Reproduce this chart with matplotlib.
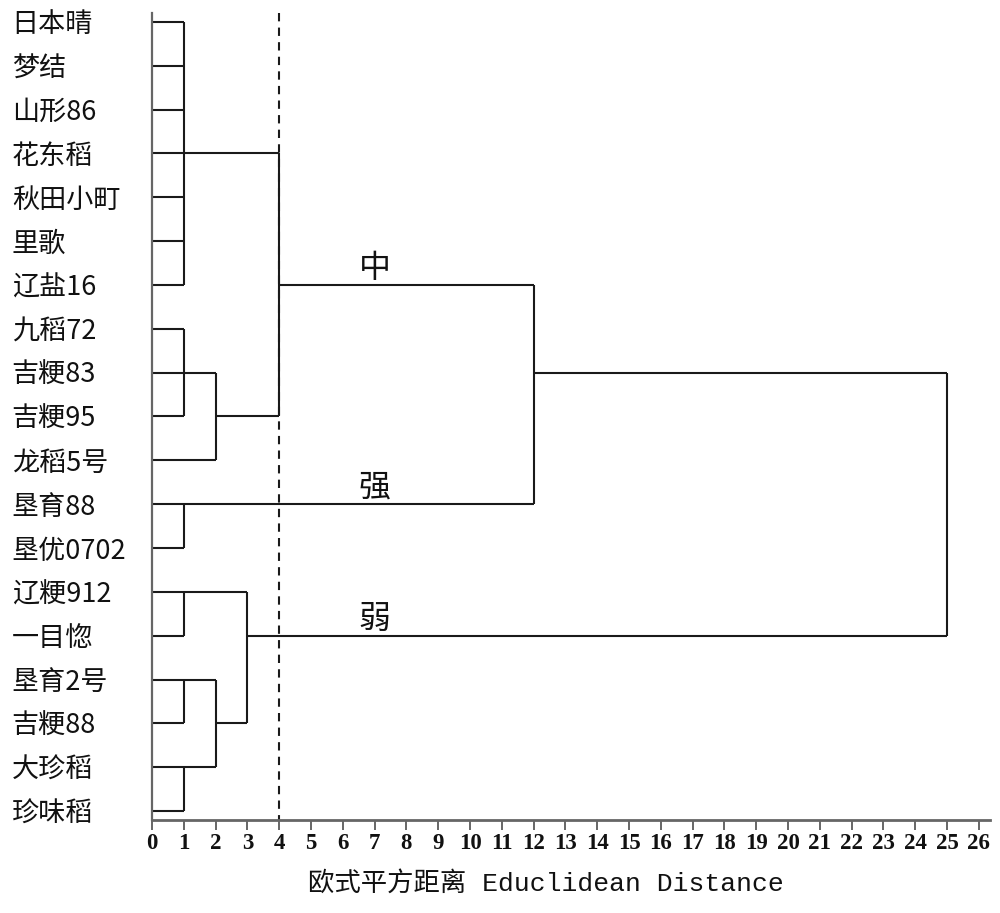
import matplotlib
matplotlib.use('Agg')
import matplotlib.pyplot as plt

plt.rcParams['font.family'] = ['Noto Sans CJK SC', 'DejaVu Sans']

# leaves, top to bottom
leaves = ['日本晴', '梦结', '山形86', '花东稻', '秋田小町', '里歌', '辽盐16',
          '九稻72', '吉粳83', '吉粳95', '龙稻5号', '垦育88', '垦优0702',
          '辽粳912', '一目惚', '垦育2号', '吉粳88', '大珍稻', '珍味稻']

# merges: children (leaf index or earlier merge id), distance, row the joined branch leaves from
# merge ids continue after the leaves (19, 20, ...)
merge_children = [[0, 1, 2, 3, 4, 5, 6], [7, 8, 9], [20, 10], [19, 21], [11, 12],
                  [22, 23], [13, 14], [15, 16], [17, 18], [26, 27], [25, 28], [24, 29]]
merge_dist = [1, 1, 2, 4, 1, 12, 1, 1, 1, 2, 3, 25]
merge_row = [3, 8, 9, 6, 11, 8, 13, 15, 17, 16, 14, None]

cut_dist = 4
group_names = ['中', '强', '弱']
group_rows = [6, 11, 14]
group_x = 7

xticks = list(range(27))

fig = plt.figure(figsize=(10, 9.13), dpi=100)
ax = fig.add_axes([0.152, 1 - 820 / 913, 0.838, (820 - 13) / 913])

lc = '#1a1a1a'
row = {i: i for i in range(len(leaves))}
height = {i: 0 for i in range(len(leaves))}
n = len(leaves)
for k, (ch, d, r) in enumerate(zip(merge_children, merge_dist, merge_row)):
    rows = [row[c] for c in ch]
    ax.vlines(d, min(rows), max(rows), color=lc, lw=1.5)
    for c in ch:
        ax.hlines(row[c], height[c], d, color=lc, lw=1.5)
    row[n + k] = r
    height[n + k] = d

ax.vlines(cut_dist, -0.205, 18.205, color=lc, lw=1.5, linestyles=(0, (4, 3)))

for name, r in zip(group_names, group_rows):
    ax.annotate(name, (group_x, r), xytext=(0, 12), textcoords='offset points',
                ha='center', va='center', fontsize=23, color='#111')

ax.set_xlim(0, 26.35)
ax.set_ylim(18.205, -0.205)

ax.set_yticks(range(len(leaves)))
ax.set_yticklabels(leaves, fontsize=19.5, color='#111')
for t in ax.get_yticklabels():
    t.set_ha('left')
ax.tick_params(axis='y', length=0, pad=101)

ax.set_xticks(xticks)
ax.set_xticklabels([str(v) for v in xticks], fontsize=16.5, fontweight='bold',
                   family=['Liberation Serif'], color='#111')
ax.tick_params(axis='x', length=7, width=1.4, color='#666', pad=2)

for s in ['top', 'right']:
    ax.spines[s].set_visible(False)
ax.spines['left'].set_color('#666')
ax.spines['bottom'].set_color('#666')
ax.spines['left'].set_linewidth(1.6)
ax.spines['bottom'].set_linewidth(2)

fig.text(0.546, 1 - 883 / 913, '欧式平方距离 Educlidean Distance', ha='center', va='center',
         fontsize=19, family=['Liberation Mono', 'Noto Sans CJK SC'], color='#111')

fig.savefig('out.png', dpi=100, facecolor='white')
